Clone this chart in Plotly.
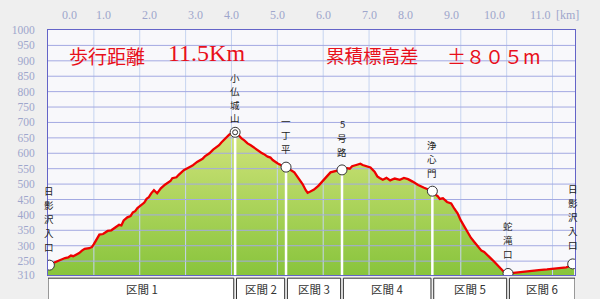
import plotly.graph_objects as go

# ---------------- data ----------------
dist_km = [0.00, 0.08, 0.15, 0.22, 0.30, 0.37, 0.44, 0.50, 0.55, 0.62, 0.68, 0.74, 0.80, 0.90,
           0.96, 1.00, 1.06, 1.12, 1.20, 1.25, 1.30, 1.38, 1.45, 1.50, 1.55, 1.60,
           1.65, 1.73, 1.80, 1.85, 1.90, 1.95, 2.05, 2.10, 2.15, 2.20, 2.25, 2.31, 2.38, 2.42,
           2.46, 2.55, 2.62, 2.67, 2.71, 2.80, 2.85,
           2.90, 2.96, 3.05, 3.10, 3.15, 3.25, 3.32, 3.37, 3.42, 3.52, 3.60, 3.68, 3.73, 3.78,
           3.88, 3.95, 4.02,
           4.08, 4.15, 4.22, 4.28, 4.35, 4.42, 4.51, 4.60, 4.65, 4.70, 4.79, 4.85, 4.90, 5.01,
           5.10, 5.19, 5.30, 5.37, 5.44,
           5.55, 5.62, 5.66, 5.72, 5.80, 5.90, 5.98, 6.08, 6.16, 6.28, 6.41, 6.52, 6.58, 6.63,
           6.72, 6.81, 6.86, 6.92, 7.03, 7.12, 7.18, 7.24, 7.30, 7.38, 7.46, 7.56, 7.67, 7.76,
           7.85, 7.95, 8.07, 8.20, 8.30, 8.38, 8.45, 8.50, 8.54, 8.61, 8.70, 8.79, 8.86, 8.93,
           9.00, 9.08, 9.15, 9.22, 9.29, 9.38, 9.45, 9.51, 9.60, 9.66, 9.73, 9.80, 9.87, 9.95,
           10.03, 10.15, 10.30, 10.50, 10.70, 10.88, 11.05, 11.17, 11.30, 11.38, 11.45, 11.47]
elev_m = [237, 242, 245, 252, 255, 260, 262, 268, 266, 272, 276, 284, 290, 292,
          296, 305, 322, 336, 338, 344, 348, 350, 357, 362, 368, 366,
          382, 392, 396, 408, 412, 422, 435, 440, 452, 458, 470, 480, 470, 478,
          486, 498, 505, 510, 519, 522, 530,
          538, 545, 552, 555, 560, 572, 578, 582, 590, 600, 612, 621, 626, 635,
          650, 660, 666,
          668, 660, 648, 642, 632, 626, 616, 605, 602, 598, 589, 586, 578, 567,
          560, 555, 545, 538, 524,
          500, 480, 472, 476, 482, 495, 507, 525, 538, 542, 546, 552, 550, 558,
          562, 566, 562, 560, 554, 540, 525, 519, 514, 520, 512, 518, 514, 520,
          516, 508, 497, 488, 482, 477, 466, 460, 452, 454, 442, 437, 420, 405,
          382, 361, 345, 326, 313, 298, 284, 280, 265, 258, 248, 236, 226, 214,
          210, 212, 215, 218, 221, 223, 225, 227, 230, 234, 242, 248]

wp_names = ["日影沢入口", "小仏城山", "一丁平", "5号路", "浄心門", "蛇滝口", "日影沢入口"]
wp_km = [0.03, 4.08, 5.19, 6.41, 8.38, 10.03, 11.44]
wp_elev = [237, 668, 555, 546, 477, 210, 241]
wp_label_shift = [10, 6, 10, 10, 10, 11, 11]
wp_char_step = [14, 13.5, 14, 14, 14, 14, 14]

section_names = ["区間 1", "区間 2", "区間 3", "区間 4", "区間 5", "区間 6"]
section_edges_km = [0.0, 4.08, 5.19, 6.41, 8.38, 10.03, 11.49]

x_grid_km = [1, 2, 3, 4, 5, 6, 7, 8, 9, 10, 11]
top_tick_labels = ["0.0", "1.0", "2.0", "3.0", "4.0", "5.0", "6.0", "7.0", "8.0", "9.0", "10.0", "11.0"]
top_tick_km = [0.26, 1, 2, 3, 4, 5, 6, 7, 8, 9, 10, 11]
y_tick_vals = [205, 250, 300, 350, 400, 450, 500, 550, 600, 650, 700, 750, 800, 850, 900, 950, 1000]
y_tick_text = ["310", "250", "300", "350", "400", "450", "500", "550", "600", "650", "700",
               "750", "800", "850", "900", "950", "1000"]
y_grid_vals = [250, 300, 350, 400, 450, 500, 550, 600, 650, 700, 750, 800, 850, 900, 950]

title_parts = ["歩行距離", "11.5Km", "累積標高差", "±８０５m"]

X_MAX = 11.49
Y_MIN, Y_MAX = 205, 1000

fig = go.Figure()

# filled profile with vertical gradient
fig.add_trace(go.Scatter(
    x=dist_km, y=elev_m, mode="lines", line=dict(width=0, color="rgba(0,0,0,0)"),
    fill="tozeroy",
    fillgradient=dict(type="vertical", start=Y_MIN, stop=680,
                      colorscale=[[0, "#88c43c"], [1, "#d2e47c"]]),
    hoverinfo="skip", showlegend=False))

# grid lines drawn above the fill
vx, vy = [], []
for g in x_grid_km:
    vx += [g, g, None]
    vy += [Y_MIN, Y_MAX, None]
fig.add_trace(go.Scatter(x=vx, y=vy, mode="lines", line=dict(color="#c6d4f0", width=1),
                         hoverinfo="skip", showlegend=False))
hx, hy = [], []
for g in y_grid_vals:
    hx += [0, X_MAX, None]
    hy += [g, g, None]
fig.add_trace(go.Scatter(x=hx, y=hy, mode="lines", line=dict(color="#a3a9e2", width=1),
                         hoverinfo="skip", showlegend=False))

# white drop lines from waypoints
dx, dy = [], []
for k, e in zip(wp_km[1:5], wp_elev[1:5]):
    dx += [k, k, None]
    dy += [e, Y_MIN, None]
fig.add_trace(go.Scatter(x=dx, y=dy, mode="lines", line=dict(color="white", width=2.5),
                         hoverinfo="skip", showlegend=False))

# red profile line
fig.add_trace(go.Scatter(x=dist_km, y=elev_m, mode="lines",
                         line=dict(color="#ee0000", width=2.3), showlegend=False))

# waypoint markers
fig.add_trace(go.Scatter(x=wp_km, y=wp_elev, mode="markers",
                         marker=dict(size=10, color="white", line=dict(color="#333", width=1)),
                         showlegend=False))
fig.add_trace(go.Scatter(x=[wp_km[1]], y=[wp_elev[1]], mode="markers",
                         marker=dict(size=5, color="white", line=dict(color="#333", width=1)),
                         showlegend=False))

ann = []
# vertical (stacked) waypoint names, one character per annotation
for name, k, e, s, st in zip(wp_names, wp_km, wp_elev, wp_label_shift, wp_char_step):
    for j, ch in enumerate(reversed(list(name))):
        ann.append(dict(x=k, y=e, xref="x", yref="y", text=ch,
                        showarrow=False, yanchor="bottom", yshift=s + j * st,
                        borderpad=0,
                        font=dict(family="Noto Sans CJK JP", size=9.5, color="#222")))

# title text
title_x = [0.0376, 0.2256, 0.526, 0.756]
title_y = [0.897, 0.905, 0.897, 0.897]
title_fonts = ["Noto Sans CJK JP", "Liberation Serif", "Noto Sans CJK JP", "Noto Sans CJK JP"]
title_sizes = [19, 24, 18.5, 19]
for t, xp, yp, ff, fs in zip(title_parts, title_x, title_y, title_fonts, title_sizes):
    ann.append(dict(x=xp, y=yp, xref="paper", yref="paper", text=t, showarrow=False,
                    xanchor="left", yanchor="middle", borderpad=0,
                    font=dict(family=ff, size=fs, color="#e8101a")))

# top km labels
for t, k in zip(top_tick_labels, top_tick_km):
    ann.append(dict(x=k / X_MAX, y=1.061, xref="paper", yref="paper", text=t, showarrow=False,
                    yanchor="middle",
                    font=dict(family="Liberation Serif", size=12, color="#9ea6cc")))
ann.append(dict(x=1.012, y=1.061, xref="paper", yref="paper", text="[km]", showarrow=False,
                yanchor="middle",
                font=dict(family="Liberation Serif", size=12, color="#9ea6cc")))

# section boxes
shapes = []
for i, nm in enumerate(section_names):
    a, b = section_edges_km[i], section_edges_km[i + 1]
    x0 = a + (0.03 if i > 0 else 0)
    x1 = b - (0.03 if i < len(section_names) - 1 else 0)
    shapes.append(dict(type="rect", xref="x", yref="paper", x0=x0, x1=x1, y0=-0.013, y1=-0.3,
                       line=dict(color="#333", width=1), fillcolor="white", layer="above"))
    ann.append(dict(x=(a + b) / 2, y=-0.057, xref="x", yref="paper", text=nm, showarrow=False,
                    yanchor="middle",
                    font=dict(family="Noto Sans CJK JP", size=11.5, color="#333")))

fig.update_layout(
    width=600, height=299,
    margin=dict(l=43, r=25, t=30, b=24),
    paper_bgcolor="#efefef", plot_bgcolor="#f8f8fb",
    xaxis=dict(range=[0, X_MAX], showgrid=False, zeroline=False, showticklabels=False,
               showline=True, mirror=True, linecolor="#6464c8", linewidth=1, fixedrange=True),
    yaxis=dict(range=[Y_MIN, Y_MAX], showgrid=False, zeroline=False, tickmode="array",
               tickvals=y_tick_vals, ticktext=y_tick_text, ticks="outside", ticklen=10,
               tickcolor="rgba(0,0,0,0)",
               tickfont=dict(family="Liberation Serif", size=11.5, color="#9ea6cc"),
               showline=True, mirror=True, linecolor="#6464c8", linewidth=1, fixedrange=True),
    annotations=ann, shapes=shapes, showlegend=False,
)

fig.write_html("out.html")
